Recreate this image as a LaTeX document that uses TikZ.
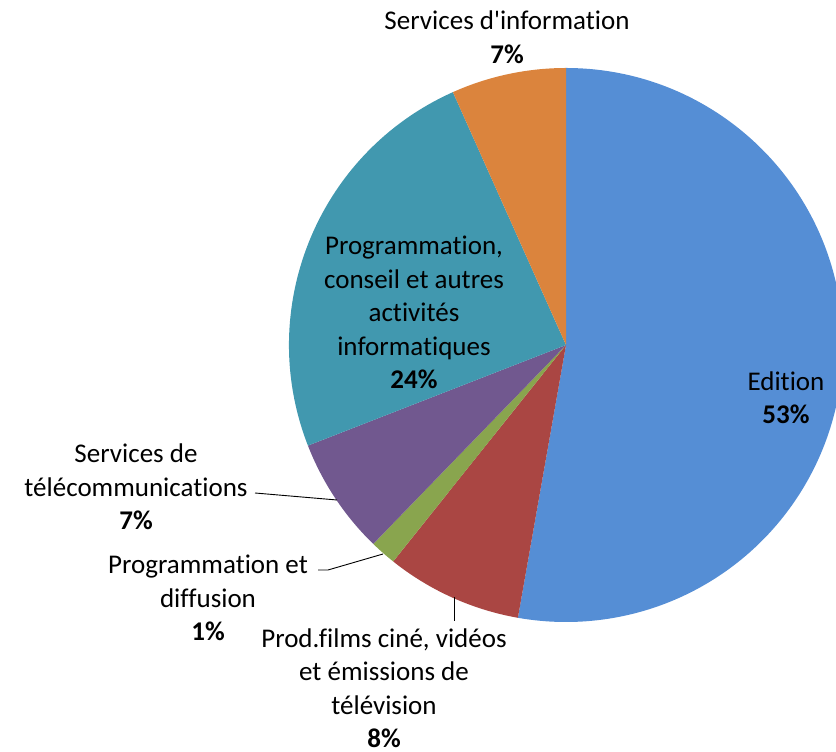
\documentclass[tikz,border=0pt]{standalone}
\usepackage{fontspec}
\setmainfont{Carlito}[Ligatures={TeXOff,NoCommon,NoRequired,NoContextual}]
\usepackage{xcolor}
\usepackage{tikz}

\definecolor{edblue}{HTML}{558ED5}
\definecolor{filmred}{HTML}{AA4643}
\definecolor{diffgreen}{HTML}{89A54E}
\definecolor{telpurple}{HTML}{71588F}
\definecolor{progteal}{HTML}{4198AF}
\definecolor{infoorange}{HTML}{DB843D}

\tikzset{
  lbl/.style={align=center, inner sep=0pt, font=\fontsize{27}{33.5}\selectfont},
  leader/.style={thin, black, line width=0.9pt}
}

\begin{document}
\begin{tikzpicture}[x=1pt, y=1pt]
\newcommand{\Rpie}{277}; % pie radius
\newcommand{\slice}[3]{\fill[#3] (C) -- ++(#1:\Rpie) arc[start angle=#1, end angle=#2, radius=\Rpie] -- cycle;}

\useasboundingbox (0,0) rectangle (836,752);
\clip (0,0) rectangle (836,752);

\coordinate (C) at (566, 407); % centre of pie

% slices, clockwise from the top
\slice{90}{-100}{edblue}
\slice{-100}{-128.6}{filmred}
\slice{-128.6}{-134.1}{diffgreen}
\slice{-134.1}{-158.7}{telpurple}
\slice{-158.7}{-245.9}{progteal}
\slice{114.1}{90}{infoorange}
%

% labels
\node[lbl] (info)    at (507, 715)   {Services d'information\\\textbf{7\%}};
\node[lbl] (edition) at (786, 354.5) {Edition\\\textbf{53\%}};
\node[lbl] (prog)    at (414, 439.5) {Programmation,\\conseil et autres\\activités\\informatiques\\\textbf{24\%}};
\node[lbl] (telecom) at (136, 265)   {Services de\\télécommunications\\\textbf{7\%}};
\node[lbl] (diff)    at (208, 154)   {Programmation et\\diffusion\\\textbf{1\%}};
\node[lbl] (films)   at (384, 64)    {Prod.films ciné, vidéos\\et émissions de\\télévision\\\textbf{8\%}};

% leader lines
\coordinate (telA)  at (255, 259);
\coordinate (telB)  at (337, 252);
\coordinate (diffA) at (318, 182);
\coordinate (diffK) at (328, 182);
\coordinate (diffB) at (383, 198);
\coordinate (filmA) at (454, 155);
\coordinate (filmB) at (454, 131);

\draw[leader] (telA) -- (telB);
\draw[leader] (diffA) -- (diffK) -- (diffB);
\draw[leader] (filmA) -- (filmB);
\end{tikzpicture}
\end{document}
